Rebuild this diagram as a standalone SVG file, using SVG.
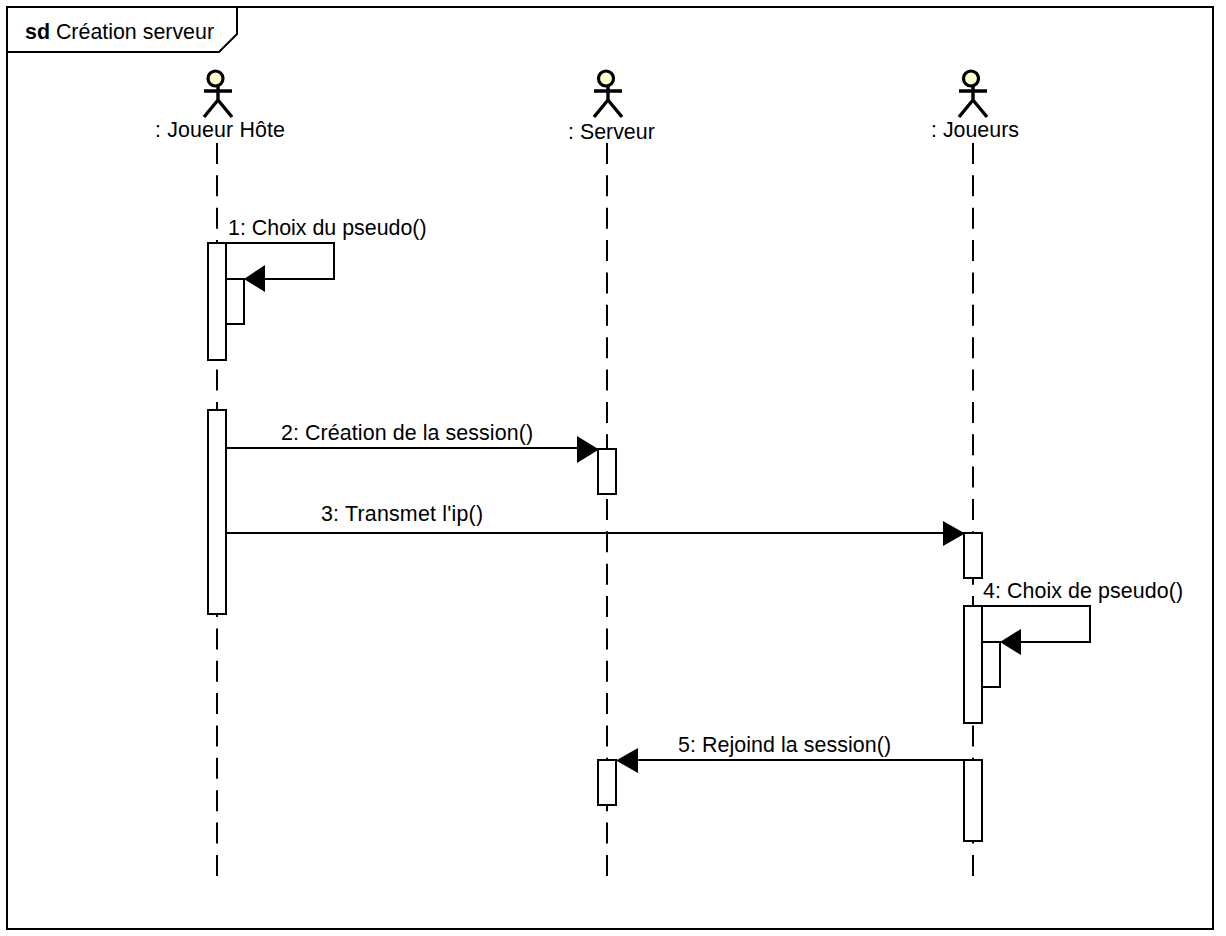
<svg xmlns="http://www.w3.org/2000/svg" width="1226" height="936" viewBox="0 0 1226 936">
<style>
text{font-family:"Liberation Sans",Arial,sans-serif;font-size:21.4px;fill:#000}
.life{stroke:#000;stroke-width:2;stroke-dasharray:21 11.36;fill:none}
.act{fill:#fff;stroke:#000;stroke-width:2}
.msg{fill:none;stroke:#000;stroke-width:2}
.head{fill:#000;stroke:none}
.limb{fill:none;stroke:#000;stroke-width:3.4}
.skull{fill:#ffffcc;stroke:#000;stroke-width:3.2}
</style>
<rect width="1226" height="936" fill="#fff"/>
<g id="frame">
<rect x="7" y="7" width="1206" height="922" fill="none" stroke="#000" stroke-width="2"/>
<path d="M7 52H219L237 34V7" fill="none" stroke="#000" stroke-width="2"/>
<text x="25" y="39"><tspan font-weight="bold">sd</tspan> Création serveur</text>
</g>
<g id="lifelines">
<path class="life" d="M217 143V876"/>
<path class="life" d="M607 143V876"/>
<path class="life" d="M973 143V876"/>
</g>
<g id="actor-joueur-hote">
<circle class="skull" cx="215.5" cy="78.5" r="7.5"/>
<path class="limb" d="M204 91H232M218 86V100L204 117M218 100L232 117"/>
<text x="155" y="137" textLength="130">: Joueur Hôte</text>
</g>
<g id="actor-serveur">
<circle class="skull" cx="606" cy="78.5" r="7.5"/>
<path class="limb" d="M594 91H622M608 86V100L594 117M608 100L622 117"/>
<text x="568" y="139">: Serveur</text>
</g>
<g id="actor-joueurs">
<circle class="skull" cx="971" cy="78.5" r="7.5"/>
<path class="limb" d="M959 91H987M973 86V100L959 117M973 100L987 117"/>
<text x="931" y="137">: Joueurs</text>
</g>
<g id="activations">
<rect class="act" x="208" y="243" width="18" height="117"/>
<rect class="act" x="226" y="279" width="18" height="45"/>
<rect class="act" x="208" y="410" width="18" height="204"/>
<rect class="act" x="598" y="449" width="18" height="45"/>
<rect class="act" x="964" y="533" width="18" height="45"/>
<rect class="act" x="964" y="606" width="18" height="117"/>
<rect class="act" x="982" y="642" width="18" height="45"/>
<rect class="act" x="598" y="760" width="18" height="45"/>
<rect class="act" x="964" y="760" width="18" height="81"/>
</g>
<g id="connectors">
<path class="msg" d="M226 243H334V279H264"/>
<path class="head" d="M244 279L265 265V292Z"/>
<path class="msg" d="M226 448H578"/>
<path class="head" d="M599 449.5L577 436V463Z"/>
<path class="msg" d="M226 533H944"/>
<path class="head" d="M965 533.5L943 521V546Z"/>
<path class="msg" d="M982 606H1090V642H1020"/>
<path class="head" d="M1000 642L1021 629V655Z"/>
<path class="msg" d="M964 760H636"/>
<path class="head" d="M616 760.5L638 748V773Z"/>
</g>
<g id="labels">
<text x="228" y="235">1: Choix du pseudo()</text>
<text x="281" y="440" textLength="252">2: Création de la session()</text>
<text x="321" y="521" textLength="162">3: Transmet l'ip()</text>
<text x="983" y="598" textLength="200">4: Choix de pseudo()</text>
<text x="678" y="752" textLength="213">5: Rejoind la session()</text>
</g>
</svg>
